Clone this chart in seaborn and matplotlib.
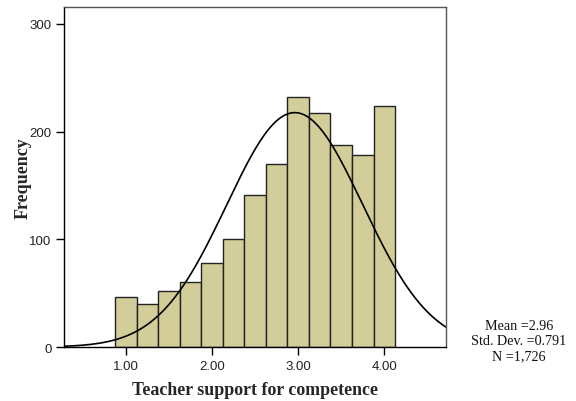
import numpy as np
import pandas as pd
import matplotlib
matplotlib.use("Agg")
import matplotlib.pyplot as plt
import seaborn as sns

# Data
bin_centers = [1.00, 1.25, 1.50, 1.75, 2.00, 2.25, 2.50, 2.75, 3.00, 3.25, 3.50, 3.75, 4.00]
counts = [46, 40, 52, 60, 78, 100, 141, 170, 232, 217, 188, 178, 224]
bin_width = 0.25
mean_val = 2.96
std_val = 0.791
n_val = 1726
x_ticks = [1.0, 2.0, 3.0, 4.0]
x_tick_labels = ["1.00", "2.00", "3.00", "4.00"]
y_ticks = [0, 100, 200, 300]

sns.set_style("white")

df = pd.DataFrame({"score": bin_centers, "count": counts})
bin_lo = bin_centers[0] - bin_width / 2
bin_hi = bin_centers[-1] + bin_width / 2

fig = plt.figure(figsize=(5.76, 4.02), dpi=100)
ax = fig.add_axes([0.1111, 0.1343, 0.6632, 0.8458])

sns.histplot(data=df, x="score", weights="count", binwidth=bin_width,
             binrange=(bin_lo, bin_hi), ax=ax,
             color="#D3CE99", edgecolor="#222222", linewidth=1.0, alpha=1.0)

xlo, xhi = 0.279, 4.717
xs = np.linspace(xlo, xhi, 400)
ys = n_val * bin_width * np.exp(-0.5 * ((xs - mean_val) / std_val) ** 2) / (std_val * np.sqrt(2 * np.pi))
ax.plot(xs, ys, color="black", linewidth=1.2)

ax.set_xlim(xlo, xhi)
ax.set_ylim(0, 315.7)
ax.set_xticks(x_ticks)
ax.set_xticklabels(x_tick_labels)
ax.set_yticks(y_ticks)
ax.tick_params(axis="both", direction="out", length=6, width=1, color="black",
               labelsize=9.5, pad=3, left=True, bottom=True)
for lab in ax.get_xticklabels() + ax.get_yticklabels():
    lab.set_family("Liberation Sans")
    lab.set_color("#222222")

for side in ["left", "bottom"]:
    ax.spines[side].set_color("black")
    ax.spines[side].set_linewidth(1.0)
for side in ["top", "right"]:
    ax.spines[side].set_visible(True)
    ax.spines[side].set_color("#555555")
    ax.spines[side].set_linewidth(1.0)

ax.set_xlabel("Teacher support for competence", family="Liberation Serif",
              fontweight="bold", fontsize=12.9, labelpad=7)
ax.set_ylabel("Frequency", family="Liberation Serif", fontweight="bold",
              fontsize=13, labelpad=-2)

fig.text(0.901, 0.1505, "Mean =2.96\nStd. Dev. =0.791\nN =1,726",
         family="Liberation Serif", fontsize=10.2, ha="center", va="center",
         linespacing=1.2, color="#111111")

fig.savefig("out.png", dpi=100)
